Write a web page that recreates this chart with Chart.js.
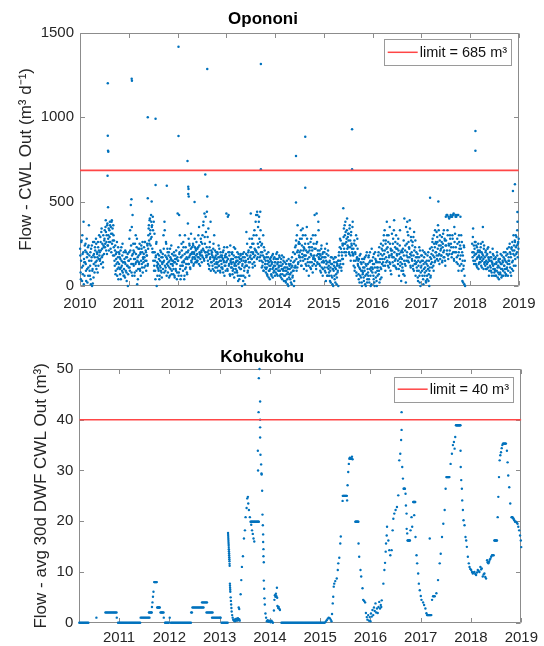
<!DOCTYPE html>
<html>
<head>
<meta charset="utf-8">
<script src="https://cdn.jsdelivr.net/npm/chart.js@4.4.0/dist/chart.umd.min.js"></script>
<style>
html,body{margin:0;padding:0;background:#fff;}
#wrap{position:relative;width:544px;height:646px;overflow:hidden;}
.box{position:absolute;left:0;width:544px;}
</style>
</head>
<body>
<div id="wrap">
  <div class="box" style="top:0;height:325px"><canvas id="c1"></canvas></div>
  <div class="box" style="top:325px;height:321px"><canvas id="c2"></canvas></div>
</div>
<script>
// ---------------- DATA ----------------
// Opononi: two interleaved samples every ~3.65 days (100 per year each), values in m3/d
const opoYears = [2010, 2011, 2012, 2013, 2014, 2015, 2016, 2017, 2018];
const opo2010 = [220,80,150,270,30,190,120,380,160,60, 140,250,90,200,170,20,230,110,360,180, 60,200,10,150,240,90,15,180,130,260, 170,210,120,250,150,190,80,230,160,300, 200,160,260,130,340,220,180,110,240,190, 280,230,350,320,260,190,370,240,300,210, 330,380,260,350,200,390,310,270,360,230, 180,120,240,90,160,200,60,140,230,110, 130,170,70,210,110,150,90,250,140,60, 100,160,50,130,200,80,170,120,0,150];
const opo2011 = [150,280,90,210,480,130,350,60,190,250, 120,200,80,160,300,140,230,10,170,100, 180,130,250,90,200,150,220,110,260,170, 140,230,170,260,120,200,150,180,240,130, 300,360,250,400,330,280,380,350,220,410, 150,380,120,200,90,170,250,0,140,110, 130,90,180,60,150,110,200,80,140,170, 100,300,150,380,120,90,260,170,130,220, 80,140,200,110,60,170,130,240,90,150, 120,70,180,140,50,160,100,210,130,80];
const opo2012 = [430,150,60,420,200,100,40,170,250,120, 180,90,230,140,60,300,160,110,200,80, 160,370,210,130,250,180,100,220,150,190, 200,170,240,130,190,280,160,220,180,140, 190,150,230,170,350,200,120,180,260,210, 180,300,220,380,160,430,250,200,320,170, 440,200,150,340,190,120,260,170,90,210, 140,180,100,220,150,300,130,170,80,200, 160,110,190,140,240,120,170,90,200,150, 130,180,100,160,210,140,60,170,120,190];
const opo2013 = [430,150,100,410,200,120,180,70,240,140, 160,110,200,90,140,180,50,130,220,100, 120,170,80,150,30,190,110,140,60,180, 100,150,0,130,170,60,200,110,10,140, 150,320,120,180,90,200,140,60,170,230, 430,200,160,250,110,190,300,140,220,180, 380,420,200,440,170,350,230,410,150,260, 330,200,150,250,120,180,90,230,160,110, 130,80,170,110,60,150,200,90,120,40, 100,150,70,130,180,50,110,160,90,140];
const opo2014 = [120,80,160,100,200,60,140,110,90,170, 90,140,50,120,180,70,100,150,30,110, 60,110,20,90,150,40,80,0,130,70, 100,40,150,80,10,120,60,200,90,30, 150,230,110,270,90,200,360,130,250,180, 200,280,150,330,120,240,170,300,210,100, 220,160,300,180,120,350,200,140,250,60, 170,230,110,190,280,140,210,80,160,250, 180,420,150,220,100,430,260,130,190,330, 160,210,120,180,80,240,140,190,100,150];
const opo2015 = [140,200,90,170,30,130,250,110,60,180, 120,60,150,90,20,130,170,50,100,0, 90,140,40,110,170,70,10,120,80,150, 150,200,110,280,130,220,90,180,250,160, 250,340,200,300,380,180,260,330,220,290, 230,310,190,360,270,150,320,240,200,380, 180,120,250,90,200,150,300,60,170,220, 120,70,160,20,100,190,50,130,0,90, 80,140,30,110,170,60,0,120,200,40, 130,60,180,20,100,150,0,90,220,110];
const opo2016 = [100,170,40,130,0,200,80,150,30,110, 60,140,200,90,20,160,110,250,50,130, 180,240,120,300,160,210,90,270,140,380, 150,200,260,110,180,350,130,220,70,190, 210,140,280,170,390,120,230,160,300,100, 180,250,130,210,60,160,330,140,200,90, 160,110,220,70,180,400,130,240,20,150, 250,380,170,300,140,220,390,190,110,270, 200,150,260,100,180,320,130,230,60,170, 140,90,190,30,120,170,60,210,0,110];
const opo2017 = [120,180,60,150,10,100,200,80,140,30, 90,150,40,120,200,70,0,110,170,60, 160,230,110,280,180,90,250,140,330,200, 200,320,160,260,360,180,240,130,300,210, 220,180,290,150,250,200,330,170,270,120, 410,240,190,420,300,160,250,400,210,280, 420,230,170,410,280,200,430,150,260,310, 410,200,140,420,250,180,90,300,220,160, 410,220,130,260,30,180,100,240,10,150, null,null,null,null,null,null,null,null,null,null];
const opo2018 = [null,null,null,null,250,170,340,200,130,220, 150,260,190,120,230,170,210,100,180,140, 200,140,250,170,110,190,350,160,220,130, 170,120,210,150,100,190,140,230,160,90, 150,200,110,170,80,140,220,120,180,60, 130,90,170,60,140,200,110,80,150,40, 110,160,70,130,50,180,100,140,60,200, 120,80,150,60,180,100,220,130,90,170, 150,250,110,190,60,230,140,210,90,300, 240,180,260,120,230,290,200,380,250,220];
const opo2010b = [180,40,260,110,300,70,200,10,140,240, 210,130,30,280,100,190,60,240,150,90, 120,40,220,170,0,100,260,50,190,80, 230,140,280,100,200,170,260,120,210,180, 150,290,210,320,170,250,140,300,230,270, 330,250,390,210,300,360,240,280,340,260, 290,360,220,310,380,250,340,180,300,270, 150,210,70,190,130,260,100,170,40,200, 190,100,160,40,230,120,180,80,140,200, 60,140,210,90,170,30,120,190,70,110];
const opo2011b = [200,110,330,160,240,80,180,420,130,210, 160,60,250,130,190,90,280,150,40,220, 140,220,100,190,60,240,130,200,80,160, 190,110,260,150,210,90,180,250,120,220, 340,270,390,310,240,420,290,360,200,330, 200,90,310,150,40,180,260,120,60,190, 100,160,40,120,210,90,170,50,130,190, 140,220,80,330,180,110,250,60,160,200, 120,180,50,150,220,100,160,70,190,130, 150,100,200,60,140,180,90,160,40,170];
const opo2012b = [150,230,80,190,300,120,170,60,210,140, 120,260,150,40,190,100,230,130,170,70, 200,130,280,170,240,110,190,310,140,230, 160,250,120,200,170,230,140,210,260,150, 220,170,300,130,240,190,160,280,200,140, 250,170,360,210,150,290,200,410,180,230, 180,290,130,210,100,230,160,380,140,190, 200,120,170,250,90,160,210,110,180,140, 130,200,90,170,120,220,150,80,180,110, 170,110,200,80,150,230,120,180,90,140];
const opo2013b = [170,230,90,160,420,130,200,60,150,110, 130,190,70,160,100,230,120,80,170,140, 150,90,200,60,130,170,40,160,100,190, 160,60,120,190,30,150,90,170,50,120, 190,120,250,80,160,210,110,280,140,180, 230,160,280,130,200,250,170,330,120,210, 210,300,160,420,250,190,380,280,170,440, 180,240,110,200,140,300,90,170,210,130, 150,100,190,70,130,170,50,140,90,160, 120,170,60,140,100,190,80,120,170,60];
const opo2014b = [140,100,190,70,130,160,90,120,180,60, 120,70,160,100,40,130,90,170,60,140, 90,30,130,70,110,10,100,160,50,120, 70,130,20,110,170,50,90,140,0,110, 190,120,240,160,300,110,210,140,260,170, 250,170,210,120,280,190,340,150,230,180, 180,250,130,210,90,280,160,200,120,230, 210,140,260,100,180,230,120,300,170,130, 220,160,300,120,250,180,140,210,380,170, 130,190,90,160,220,110,170,60,200,140];
const opo2015b = [170,110,220,80,150,190,60,140,210,100, 80,140,30,110,170,60,130,10,100,160, 120,60,170,20,100,140,50,130,90,0, 180,120,230,150,270,110,200,160,240,130, 290,220,360,250,320,200,280,400,240,310, 270,200,340,230,180,300,250,220,350,190, 220,150,270,110,190,240,80,160,280,130, 150,40,110,180,60,140,90,20,160,70, 110,50,160,90,10,130,180,70,20,100, 80,170,40,140,200,60,110,10,150,80];
const opo2016b = [130,60,190,20,110,160,50,140,0,90, 110,180,70,230,140,40,190,100,220,160, 210,140,270,190,330,120,250,170,220,300, 230,120,300,170,140,250,90,210,180,310, 170,250,120,330,200,150,260,110,220,190, 220,150,280,100,190,240,120,170,30,210, 130,200,90,270,150,60,210,120,350,180, 200,320,150,260,230,170,340,120,290,180, 160,240,120,290,90,210,150,270,130,200, 110,170,50,150,90,230,20,140,80,180];
const opo2017b = [150,90,210,40,130,170,60,110,190,20, 130,60,180,100,30,150,90,220,50,130, 190,140,260,210,120,300,170,230,150,260, 250,180,290,220,150,330,190,270,160,240, 180,260,140,230,310,170,210,280,150,240, 270,420,210,330,180,410,240,190,300,410, 250,410,190,300,420,230,160,350,200,420, 230,410,170,280,130,420,200,260,120,240, 180,300,90,200,150,20,120,230,60,0, null,null,null,null,null,null,null,null,null,null];
const opo2018b = [null,null,null,null,200,290,150,240,180,260, 190,130,240,160,110,200,250,130,170,210, 160,230,120,200,150,260,180,100,240,140, 140,200,100,180,130,220,110,170,60,150, 120,170,90,150,60,130,190,100,160,80, 100,160,60,130,90,180,50,120,160,70, 140,80,190,100,130,60,150,90,170,120, 160,100,200,70,140,110,190,60,150,230, 130,200,80,170,220,100,260,150,190,120, 210,270,160,300,190,240,330,170,260,280];
const opoPeaks = [[2010.57,1200],[2010.57,890],[2010.575,801],[2010.58,795],[2010.565,653],[2010.575,466],
  [2011.06,1227],[2011.065,1216],[2011.055,513],[2011.39,999],[2011.39,519],[2011.47,500],[2011.55,991],[2011.55,598],
  [2011.78,594],[2012.02,1417],[2012.02,888],[2012.205,740],[2012.22,588],[2012.225,575],[2012.22,545],[2012.23,530],
  [2012.35,497],[2012.57,661],[2012.61,1285],[2012.61,530],[2013.71,1314],[2013.71,691],[2014.43,770],[2014.43,495],
  [2014.62,884],[2014.62,582],[2015.4,460],[2015.58,928],[2015.58,691],[2017.18,523],[2017.35,500],
  [2018.11,918],[2018.11,801],[2018.88,562],[2018.92,602],[2018.97,438]];
const opoTicksX = [2010, 2011, 2012, 2013, 2014, 2015, 2016, 2017, 2018, 2019];
const opoTicksY = [0, 500, 1000, 1500];
const opoLimit = 685;

// Kohukohu: [decimal year, 30-day average DWF CWL out, m3]
const kohPoints = [
[2010.21,0],[2010.23,0],[2010.25,0],[2010.27,0],[2010.29,0],[2010.31,0],[2010.33,0],[2010.35,0],[2010.37,0],[2010.39,0],
[2010.55,1],
[2010.73,2],[2010.75,2],[2010.77,2],[2010.79,2],[2010.81,2],[2010.83,2],[2010.85,2],[2010.87,2],[2010.89,2],[2010.91,2],[2010.93,2],[2010.95,2],
[2010.955,1],
[2010.98,0],[2011.00,0],[2011.02,0],[2011.04,0],[2011.06,0],[2011.08,0],[2011.10,0],[2011.12,0],[2011.14,0],[2011.16,0],[2011.18,0],[2011.20,0],
[2011.22,0],[2011.24,0],[2011.26,0],[2011.28,0],[2011.30,0],[2011.32,0],[2011.34,0],[2011.36,0],[2011.38,0],[2011.40,0],[2011.42,0],
[2011.43,1],[2011.45,1],[2011.47,1],[2011.49,1],[2011.51,1],[2011.53,1],[2011.55,1],[2011.57,1],[2011.59,1],[2011.605,1],
[2011.595,2],[2011.61,2],[2011.625,2],[2011.64,2],[2011.65,2],
[2011.655,3.1],[2011.665,4],[2011.675,5.1],[2011.685,6.1],[2011.70,8],[2011.71,8],[2011.72,8],[2011.73,8],[2011.74,8],[2011.75,8],
[2011.76,3],[2011.77,3],[2011.78,3],[2011.79,3],[2011.80,3],[2011.81,3],
[2011.825,2],[2011.84,2],[2011.855,2],[2011.87,2],[2011.885,2],[2011.89,1],
[2011.915,0],[2011.93,0],[2011.945,0],[2011.96,0],[2011.975,0],[2011.99,0],[2012.008,1],
[2012.03,0],[2012.05,0],[2012.07,0],[2012.09,0],[2012.11,0],[2012.13,0],[2012.15,0],[2012.17,0],[2012.19,0],[2012.21,0],[2012.23,0],
[2012.25,0],[2012.27,0],[2012.29,0],[2012.31,0],[2012.33,0],[2012.35,0],[2012.37,0],[2012.39,0],[2012.41,0],[2012.43,0],
[2012.435,2],[2012.45,2],
[2012.46,3],[2012.48,3],[2012.50,3],[2012.52,3],[2012.54,3],[2012.56,3],[2012.58,3],[2012.60,3],[2012.62,3],[2012.64,3],[2012.66,3],[2012.68,3],
[2012.65,4],[2012.67,4],[2012.69,4],[2012.71,4],[2012.73,4],[2012.75,4],
[2012.74,2],[2012.76,2],[2012.78,2],[2012.80,2],[2012.82,2],[2012.84,2],[2012.86,2],
[2012.85,1],[2012.87,1],[2012.89,1],[2012.91,1],[2012.93,1],[2012.95,1],[2012.97,1],[2012.99,1],[2013.01,1],[2013.02,1],
[2013.04,0],[2013.06,0],[2013.08,0],[2013.10,0],[2013.12,0],[2013.14,0],[2013.16,0],
[2013.168,17.7],[2013.170,17.3],[2013.172,16.9],[2013.174,16.5],[2013.176,16.1],[2013.178,15.7],[2013.180,15.3],[2013.182,14.9],[2013.184,14.5],
[2013.186,14.1],[2013.188,13.7],[2013.190,13.3],[2013.192,12.9],[2013.194,12.5],[2013.196,12.1],[2013.198,11.6],[2013.200,11.2],
[2013.205,7.7],[2013.207,7.3],[2013.209,6.9],[2013.211,6.5],[2013.213,6.1],
[2013.22,5.0],[2013.225,4.3],[2013.23,3.6],[2013.235,2.9],[2013.24,2.2],[2013.25,1.5],[2013.26,1.0],[2013.27,0.6],
[2013.285,0.4],[2013.295,0.6],[2013.305,0.3],[2013.315,0.7],[2013.325,0.5],[2013.335,0.8],[2013.345,0.4],[2013.355,0.6],[2013.365,0.9],[2013.375,0.5],[2013.39,0.7],[2013.40,0.4],
[2013.38,3.0],[2013.39,2.7],[2013.418,5.6],[2013.431,8.4],[2013.444,11.0],[2013.464,13.1],[2013.484,16.6],[2013.504,18.2],[2013.517,20.8],
[2013.537,22.6],[2013.55,24.5],[2013.563,24.8],[2013.57,23.5],[2013.583,22.2],[2013.602,20.8],
[2013.615,19.9],[2013.627,19.9],[2013.639,19.9],[2013.651,19.9],[2013.663,19.9],[2013.675,19.9],[2013.687,19.9],[2013.699,19.9],[2013.711,19.9],
[2013.723,19.9],[2013.735,19.9],[2013.747,19.9],[2013.759,19.9],[2013.771,19.9],[2013.78,19.9],
[2013.629,19.3],[2013.645,18.2],[2013.66,17.5],[2013.675,16.6],[2013.69,16.0],
[2013.761,33.9],[2013.765,30.0],[2013.775,41.5],[2013.78,48.2],[2013.793,50.0],[2013.806,43.6],[2013.806,40.0],[2013.806,38.5],[2013.806,36.5],
[2013.813,33.1],[2013.826,31.2],[2013.833,29.4],[2013.836,29.2],[2013.846,26.0],[2013.853,21.3],[2013.86,19.2],[2013.866,17.4],[2013.866,15.9],
[2013.872,14.5],[2013.872,13.1],[2013.879,11.9],[2013.879,8.3],[2013.886,6.7],[2013.892,4.8],[2013.899,3.6],[2013.912,1.8],[2013.925,1.0],
[2013.94,0.3],[2013.955,0.5],[2013.97,0.2],[2013.985,0.4],[2014.0,0.3],[2014.015,0.1],[2014.03,0.4],[2014.045,0.2],[2014.06,0.0],
[2014.08,2.4],[2014.09,4.5],[2014.10,5.4],[2014.11,5.1],[2014.12,5.7],[2014.13,5.2],[2014.14,6.9],[2014.145,4.9],[2014.15,3.3],[2014.165,2.9],[2014.175,3.1],[2014.19,2.7],[2014.20,2.5],
[2014.23,0],[2014.25,0],[2014.27,0],[2014.29,0],[2014.31,0],[2014.33,0],[2014.35,0],[2014.37,0],[2014.39,0],[2014.41,0],[2014.43,0],[2014.45,0],[2014.47,0],
[2014.49,0],[2014.51,0],[2014.53,0],[2014.55,0],[2014.57,0],[2014.59,0],[2014.61,0],[2014.63,0],[2014.65,0],[2014.67,0],[2014.69,0],[2014.71,0],[2014.73,0],
[2014.75,0],[2014.77,0],[2014.79,0],[2014.81,0],[2014.83,0],[2014.85,0],[2014.87,0],[2014.89,0],[2014.91,0],[2014.93,0],[2014.95,0],[2014.97,0],[2014.99,0],
[2015.01,0],[2015.03,0],[2015.05,0],[2015.07,0],[2015.09,0],
[2015.11,0.2],[2015.13,0.5],[2015.15,0.8],[2015.17,1.0],[2015.19,0.9],[2015.21,0.6],[2015.225,0.3],
[2015.236,1.7],[2015.25,3.8],[2015.26,5.1],[2015.27,7.1],[2015.28,7.7],[2015.30,8.2],[2015.33,8.7],[2015.35,10.4],[2015.36,11.7],[2015.38,12.8],
[2015.40,15.6],[2015.41,17.0],[2015.446,24.0],
[2015.45,25],[2015.46,25],[2015.47,25],[2015.48,25],[2015.49,25],[2015.50,25],[2015.51,25],[2015.52,25],[2015.53,25],
[2015.536,24.1],[2015.545,27.1],[2015.558,29.7],[2015.57,31.3],[2015.58,32.3],[2015.59,32.5],[2015.60,32.4],[2015.61,32.3],[2015.62,32.3],[2015.632,32.7],[2015.644,32.2],
[2015.70,19.9],[2015.71,19.9],[2015.72,19.9],[2015.73,19.9],[2015.74,19.9],[2015.75,19.9],[2015.76,19.9],
[2015.763,15.6],[2015.776,13.0],[2015.802,10.4],[2015.816,9.1],[2015.842,6.8],[2015.855,4.5],[2015.875,4.3],[2015.894,4.0],
[2015.91,1.9],[2015.927,1.1],[2015.94,0.6],[2015.955,1.5],[2015.97,0.4],[2015.985,1.1],[2016.0,0.3],[2016.01,1.8],[2016.025,1.2],[2016.04,2.5],
[2016.055,1.5],[2016.07,3.0],[2016.085,2.3],[2016.10,3.8],[2016.115,2.0],[2016.13,2.8],[2016.145,1.9],[2016.16,3.1],[2016.175,4.1],[2016.19,2.8],[2016.205,3.5],[2016.215,3.1],
[2016.224,4.4],[2016.257,7.7],[2016.277,10.4],[2016.29,11.8],[2016.303,14.0],[2016.31,15.6],[2016.323,17.2],[2016.33,18.9],[2016.356,16.2],[2016.375,14.3],
[2016.395,13.3],[2016.421,14.3],[2016.441,18.2],[2016.455,20.5],[2016.474,21.5],[2016.50,22.2],[2016.527,22.8],[2016.553,25.1],[2016.573,32.0],[2016.593,33.3],
[2016.61,36.0],[2016.619,38.0],[2016.619,41.5],[2016.632,30.7],[2016.646,28.4],[2016.659,26.4],[2016.668,26.4],[2016.677,26.4],[2016.685,26.4],[2016.698,25.4],
[2016.705,23.1],[2016.718,21.5],[2016.72,18.5],[2016.731,17.6],
[2016.738,16.2],[2016.748,16.2],[2016.758,16.2],[2016.768,16.2],[2016.778,16.2],[2016.784,16.2],
[2016.797,18.2],[2016.817,20.8],[2016.83,18.9],
[2016.85,23.8],[2016.86,23.8],[2016.87,23.8],[2016.88,23.8],[2016.89,23.8],[2016.87,21.2],
[2016.896,16.9],[2016.916,13.3],[2016.929,11.7],[2016.949,9.7],[2016.962,7.7],[2016.981,6.4],[2017.001,5.25],[2017.014,4.5],[2017.047,4.0],[2017.067,3.5],
[2017.093,2.8],[2017.113,1.85],
[2017.125,1.5],[2017.135,1.5],[2017.145,1.5],[2017.155,1.5],[2017.165,1.5],[2017.175,1.5],[2017.185,1.5],[2017.195,1.5],[2017.21,1.5],
[2017.179,16.6],
[2017.225,4.5],[2017.245,5.2],[2017.26,5.2],[2017.278,5.2],[2017.311,5.8],[2017.344,8.4],[2017.377,11.7],[2017.397,13.6],[2017.423,16.9],[2017.449,19.5],
[2017.476,22.2],[2017.495,26.4],
[2017.51,28.7],[2017.52,28.7],[2017.53,28.7],[2017.54,28.7],[2017.55,28.7],[2017.56,28.7],[2017.57,28.7],
[2017.594,31.3],[2017.62,33.3],[2017.64,35.0],[2017.66,35.6],[2017.673,34.3],[2017.686,36.6],
[2017.70,38.9],[2017.71,38.9],[2017.72,38.9],[2017.73,38.9],[2017.74,38.9],[2017.75,38.9],[2017.76,38.9],[2017.77,38.9],[2017.78,38.9],[2017.79,38.9],
[2017.792,33.9],[2017.795,30.7],[2017.805,28.1],[2017.818,26.4],[2017.825,24.1],[2017.838,22.2],[2017.851,20.2],[2017.871,19.2],[2017.89,16.9],[2017.904,16.2],
[2017.917,14.95],[2017.937,13.0],[2017.956,11.7],[2017.97,11.0],[2017.985,10.6],[2018.003,10.4],[2018.02,10.0],[2018.035,9.7],[2018.05,9.9],[2018.068,10.0],
[2018.085,9.6],[2018.101,9.4],[2018.118,9.9],[2018.134,10.4],[2018.15,10.2],[2018.167,10.0],[2018.187,11.0],[2018.20,10.5],[2018.213,10.7],[2018.233,9.1],
[2018.25,9.5],[2018.266,9.7],[2018.283,9.0],[2018.299,8.7],[2018.319,12.3],[2018.33,11.9],[2018.345,11.7],[2018.36,12.0],[2018.372,12.4],[2018.385,12.6],
[2018.40,13.0],[2018.418,13.3],[2018.433,13.3],[2018.45,13.3],
[2018.464,16.2],[2018.474,16.2],[2018.484,16.2],[2018.494,16.2],[2018.504,16.2],[2018.516,16.2],
[2018.53,20.8],[2018.543,24.8],[2018.556,28.7],[2018.569,32.0],[2018.583,33.0],[2018.596,33.6],[2018.61,34.4],[2018.622,35.0],
[2018.635,35.3],[2018.645,35.3],[2018.655,35.3],[2018.665,35.3],[2018.675,35.3],[2018.685,35.3],[2018.694,35.3],
[2018.714,33.9],[2018.727,31.6],[2018.74,29.0],[2018.76,26.7],[2018.78,23.5],[2018.806,20.8],[2018.815,20.8],[2018.826,20.8],[2018.836,20.6],[2018.846,20.5],
[2018.86,20.2],[2018.875,19.9],[2018.892,19.9],[2018.91,19.7],[2018.925,19.5],[2018.94,18.9],[2018.958,18.2],[2018.975,17.2],[2018.99,16.2],[2018.998,14.9]
];
const kohTicksX = [2011, 2012, 2013, 2014, 2015, 2016, 2017, 2018, 2019];
const kohTicksY = [0, 10, 20, 30, 40, 50];
const kohLimit = 40;
const kohRange = [2010.21, 2019];

// ---------------- STYLE ----------------
const FONT = "'Liberation Sans', Arial, Helvetica, sans-serif";
const BLUE = '#0072BD';
const RED = 'rgb(255,70,70)';
const TXT = '#262626';

const matlabAxes = {
  id: 'matlabAxes',
  beforeDatasetsDraw(chart) {
    const {ctx, chartArea: a} = chart;
    const xs = chart.scales.x, ys = chart.scales.y;
    const L = Math.round(a.left) + 0.5, T = Math.round(a.top) + 0.5;
    const R = Math.round(a.right) - 0.5, B = Math.round(a.bottom) - 0.5;
    ctx.save();
    ctx.lineWidth = 1;
    ctx.strokeStyle = '#8c8c8c';
    ctx.beginPath();
    ctx.rect(L, T, R - L, B - T);
    const tl = 4.5;
    xs.ticks.forEach(t => {
      const x = Math.round(xs.getPixelForValue(t.value)) + 0.5;
      ctx.moveTo(x, B); ctx.lineTo(x, B - tl);
      ctx.moveTo(x, T); ctx.lineTo(x, T + tl);
    });
    ys.ticks.forEach(t => {
      const y = Math.round(ys.getPixelForValue(t.value)) + 0.5;
      ctx.moveTo(L, y); ctx.lineTo(L + tl, y);
      ctx.moveTo(R, y); ctx.lineTo(R - tl, y);
    });
    ctx.stroke();
    ctx.restore();
  },
  afterDraw(chart, args, o) {
    const {ctx, chartArea: a} = chart;
    ctx.save();
    ctx.font = '14.5px ' + FONT;
    const tw = ctx.measureText(o.label).width;
    const w = 3.5 + 30 + 2 + tw + 4, h = o.h;
    const bx = a.right - o.dr - w, by = a.top + o.dt;
    ctx.fillStyle = '#fff';
    ctx.fillRect(bx, by, w, h);
    ctx.lineWidth = 1;
    ctx.strokeStyle = '#9a9a9a';
    ctx.strokeRect(Math.round(bx) + 0.5, Math.round(by) + 0.5, Math.round(w), Math.round(h));
    ctx.strokeStyle = RED;
    ctx.lineWidth = 1.5;
    ctx.beginPath();
    ctx.moveTo(bx + 3.5, by + h / 2);
    ctx.lineTo(bx + 33.5, by + h / 2);
    ctx.stroke();
    ctx.fillStyle = '#111';
    ctx.textBaseline = 'middle';
    ctx.textAlign = 'left';
    ctx.fillText(o.label, bx + 35.5, by + h / 2 + 1);
    ctx.restore();
  }
};

function axisX(min, max, ticks, height, pad) {
  return {
    type: 'linear', min: min, max: max,
    afterBuildTicks: s => { s.ticks = ticks.map(v => ({value: v})); },
    afterFit: s => { s.height = height; },
    grid: {display: false, drawTicks: false},
    border: {display: false},
    ticks: {font: {family: FONT, size: 15}, color: TXT, padding: pad, maxRotation: 0, autoSkip: false, callback: v => String(v)}
  };
}
function axisY(min, max, ticks, width, title, tpad) {
  return {
    type: 'linear', min: min, max: max,
    afterBuildTicks: s => { s.ticks = ticks.map(v => ({value: v})); },
    afterFit: s => { s.width = width; },
    grid: {display: false, drawTicks: false},
    border: {display: false},
    ticks: {font: {family: FONT, size: 15}, color: TXT, padding: 6, autoSkip: false, callback: v => String(v)},
    title: {display: true, text: title, color: TXT, font: {family: FONT, size: 17}, padding: {top: tpad, bottom: 0}}
  };
}

// Opononi chart
const opoByYear = [opo2010, opo2011, opo2012, opo2013, opo2014, opo2015, opo2016, opo2017, opo2018];
const opoByYearB = [opo2010b, opo2011b, opo2012b, opo2013b, opo2014b, opo2015b, opo2016b, opo2017b, opo2018b];
const opoPts = [];
opoYears.forEach((yr, k) => {
  opoByYear[k].forEach((v, i) => { if (v !== null) opoPts.push({x: yr + (i + 0.25) / 100, y: v}); });
  opoByYearB[k].forEach((v, i) => { if (v !== null) opoPts.push({x: yr + (i + 0.75) / 100, y: v}); });
});
opoPeaks.forEach(p => opoPts.push({x: p[0], y: p[1]}));

new Chart(document.getElementById('c1'), {
  type: 'scatter',
  data: {
    datasets: [
      {type: 'line', label: 'limit = 685 m³', data: [{x: opoTicksX[0], y: opoLimit}, {x: opoTicksX[opoTicksX.length - 1], y: opoLimit}],
       borderColor: RED, borderWidth: 1.6, pointRadius: 0, fill: false, order: 0},
      {label: 'Opononi', data: opoPts, backgroundColor: BLUE, borderWidth: 0, pointRadius: 1.25, pointHoverRadius: 1.25, order: 1, clip: 4}
    ]
  },
  options: {
    responsive: true, maintainAspectRatio: false, animation: false, devicePixelRatio: 1,
    layout: {padding: {left: 0, right: 18, top: 0, bottom: 0}},
    events: [],
    plugins: {
      legend: {display: false}, tooltip: {enabled: false},
      title: {display: true, text: 'Opononi', color: '#000', font: {family: FONT, size: 17, weight: 'bold'}, padding: {top: 9.2, bottom: 3.1}},
      matlabAxes: {label: 'limit = 685 m³', h: 26, dr: 7.7, dt: 6.6}
    },
    scales: {
      x: axisX(opoTicksX[0], opoTicksX[opoTicksX.length - 1], opoTicksX, 39, 8.5),
      y: axisY(0, 1500, opoTicksY, 80, 'Flow - CWL Out (m³ d⁻¹)', 15.8)
    }
  },
  plugins: [matlabAxes]
});

// Kohukohu chart
const kohPts = kohPoints.map(p => ({x: p[0], y: p[1]}));
new Chart(document.getElementById('c2'), {
  type: 'scatter',
  data: {
    datasets: [
      {type: 'line', label: 'limit = 40 m³', data: [{x: kohRange[0], y: kohLimit}, {x: kohRange[1], y: kohLimit}],
       borderColor: RED, borderWidth: 1.6, pointRadius: 0, fill: false, order: 0},
      {label: 'Kohukohu', data: kohPts, backgroundColor: BLUE, borderWidth: 0, pointRadius: 1.2, pointHoverRadius: 1.2, order: 1, clip: 4}
    ]
  },
  options: {
    responsive: true, maintainAspectRatio: false, animation: false, devicePixelRatio: 1,
    layout: {padding: {left: 0, right: 19.7, top: 0, bottom: 0}},
    events: [],
    plugins: {
      legend: {display: false}, tooltip: {enabled: false},
      title: {display: true, text: 'Kohukohu', color: '#000', font: {family: FONT, size: 17, weight: 'bold'}, padding: {top: 22.2, bottom: 1.4}},
      matlabAxes: {label: 'limit = 40 m³', h: 25, dr: 8.3, dt: 7.7}
    },
    scales: {
      x: axisX(kohRange[0], kohRange[1], kohTicksX, 23.3, 6),
      y: axisY(0, 50, kohTicksY, 79.3, 'Flow - avg 30d DWF CWL Out (m³)', 31.2)
    }
  },
  plugins: [matlabAxes]
});
</script>
</body>
</html>
